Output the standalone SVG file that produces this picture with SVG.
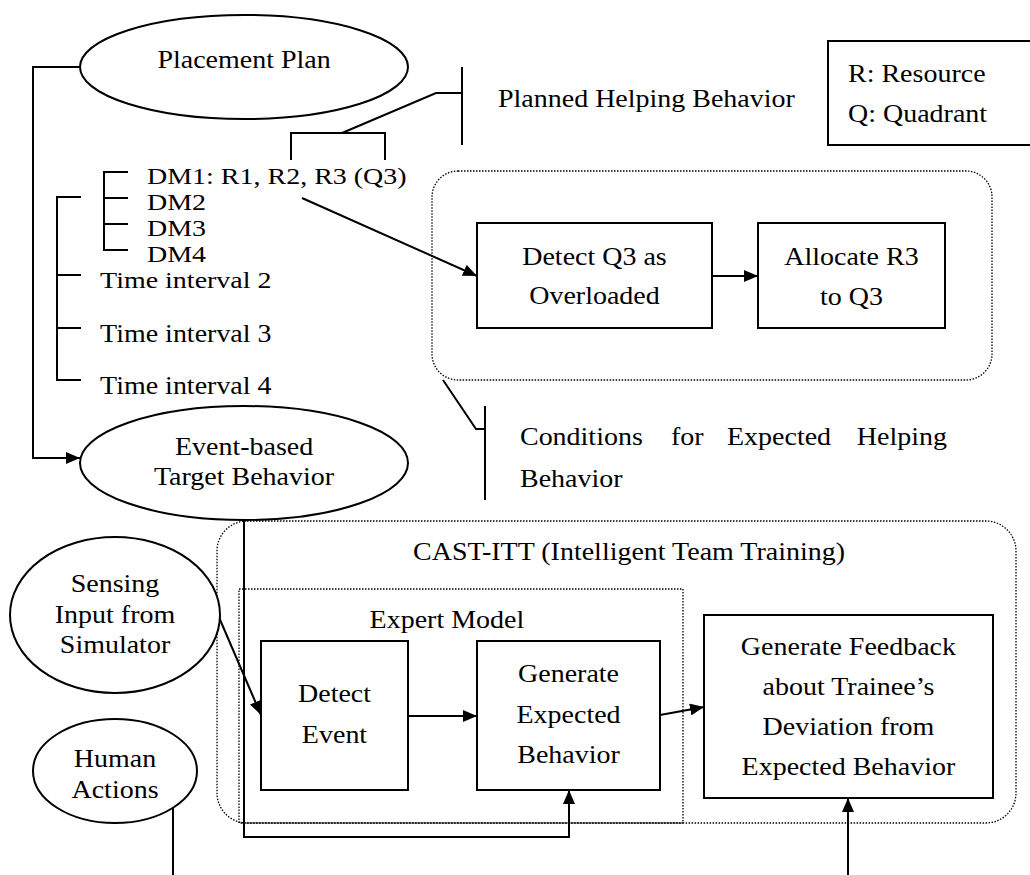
<svg xmlns="http://www.w3.org/2000/svg" width="1030" height="875" viewBox="0 0 1030 875">
<defs>
<marker id="ah" markerWidth="14" markerHeight="12" refX="14" refY="6" orient="auto" markerUnits="userSpaceOnUse"><path d="M0,0 L14,6 L0,12 Z" fill="#000"/></marker>
</defs>
<style>
text { font-family: "Liberation Serif", "Times New Roman", serif; font-size: 26px; fill: #000; transform-box: view-box; transform-origin: 0 0; transform: scale(1.077, 1); }
text.sm { font-size: 23px; transform: scale(1.217, 1); }
.m { text-anchor: middle; }
.e { text-anchor: end; }
.s { fill: #fff; stroke: #000; stroke-width: 2; }
.ln { fill: none; stroke: #000; stroke-width: 2; }
.ar { fill: none; stroke: #000; stroke-width: 2; marker-end: url(#ah); }
.dot { fill: none; stroke: #000; stroke-width: 1.3; stroke-dasharray: 1.5 1.5; }
</style>
<rect width="1030" height="875" fill="#fff"/>

<g id="helping-conditions">
<rect class="dot" x="432" y="171" width="560" height="209" rx="26"/>
</g>
<g id="cast-itt">
<rect class="dot" x="217" y="521" width="799" height="302" rx="30"/>
<text x="383.5" y="560">CAST-ITT (Intelligent Team Training)</text>
</g>
<g id="expert-model">
<rect class="dot" x="239" y="589" width="444" height="234"/>
<text class="m" x="415" y="628">Expert Model</text>
</g>

<g id="connectors">
<path class="ar" d="M80,67 H33 V458 H80"/>
<path class="ln" d="M291,160 V133 H385 V160 M342,133 L436,93 H462 M462,67 V145"/>
<path class="ln" d="M128,172 H104 V250 H128 M104,198 H128 M104,224 H128"/>
<path class="ln" d="M81,197 H57 V380 H81 M57,275 H81 M57,328 H81"/>
<path class="ar" d="M302,198 L477,276"/>
<path class="ar" d="M712,276 H758"/>
<path class="ln" d="M443,380 L476,429 H485 M485,406 V500"/>
<path class="ar" d="M218,615 L261,715"/>
<path class="ar" d="M244,520 V837 H569 V790"/>
<path class="ar" d="M408,716 H477"/>
<path class="ar" d="M660,715 L704,707"/>
<path class="ln" d="M173,808 V875"/>
<path class="ar" d="M848,875 V798"/>
</g>

<g id="placement-plan">
<ellipse class="s" cx="244" cy="67" rx="164" ry="52"/>
<text class="m" x="226.6" y="68">Placement Plan</text>
</g>
<g id="plan-details">
<text class="sm" x="120.8" y="184">DM1: R1, R2, R3 (Q3)</text>
<text class="sm" x="120.8" y="210">DM2</text>
<text class="sm" x="120.8" y="236">DM3</text>
<text class="sm" x="120.8" y="262">DM4</text>
<text class="sm" x="82.2" y="288">Time interval 2</text>
<text x="92.9" y="342">Time interval 3</text>
<text x="92.9" y="394">Time interval 4</text>
</g>
<g id="planned-helping">
<text x="462.4" y="107">Planned Helping Behavior</text>
</g>
<g id="legend">
<rect class="s" x="828" y="41" width="210" height="104"/>
<text x="787.4" y="82">R: Resource</text>
<text x="787.4" y="122">Q: Quadrant</text>
</g>
<g id="detect-q3">
<rect class="s" x="477" y="223" width="235" height="105"/>
<text class="m" x="552" y="265">Detect Q3 as</text>
<text class="m" x="552" y="304">Overloaded</text>
</g>
<g id="allocate-r3">
<rect class="s" x="758" y="223" width="187" height="105"/>
<text class="m" x="790.6" y="265">Allocate R3</text>
<text class="m" x="790.6" y="305">to Q3</text>
</g>
<g id="conditions-label">
<text x="482.8" y="445">Conditions</text>
<text x="623" y="445">for</text>
<text x="675" y="445">Expected</text>
<text class="e" x="879.3" y="445">Helping</text>
<text x="482.8" y="487">Behavior</text>
</g>
<g id="event-target">
<ellipse class="s" cx="244" cy="463" rx="164" ry="57"/>
<text class="m" x="226.6" y="455">Event-based</text>
<text class="m" x="226.6" y="485">Target Behavior</text>
</g>
<g id="sensing">
<ellipse class="s" cx="115" cy="615" rx="105" ry="78"/>
<text class="m" x="106.8" y="592">Sensing</text>
<text class="m" x="106.8" y="623">Input from</text>
<text class="m" x="106.8" y="653">Simulator</text>
</g>
<g id="human-actions">
<ellipse class="s" cx="115" cy="771" rx="82" ry="52"/>
<text class="m" x="106.8" y="767">Human</text>
<text class="m" x="106.8" y="798">Actions</text>
</g>
<g id="detect-event">
<rect class="s" x="261" y="641" width="147" height="149"/>
<text class="m" x="310.6" y="702">Detect</text>
<text class="m" x="310.6" y="743">Event</text>
</g>
<g id="generate-expected">
<rect class="s" x="477" y="641" width="183" height="149"/>
<text class="m" x="527.9" y="682">Generate</text>
<text class="m" x="527.9" y="723">Expected</text>
<text class="m" x="527.9" y="763">Behavior</text>
</g>
<g id="feedback">
<rect class="s" x="704" y="615" width="289" height="183"/>
<text class="m" x="787.8" y="655">Generate Feedback</text>
<text class="m" x="787.8" y="695">about Trainee’s</text>
<text class="m" x="787.8" y="735">Deviation from</text>
<text class="m" x="787.8" y="775">Expected Behavior</text>
</g>
</svg>
